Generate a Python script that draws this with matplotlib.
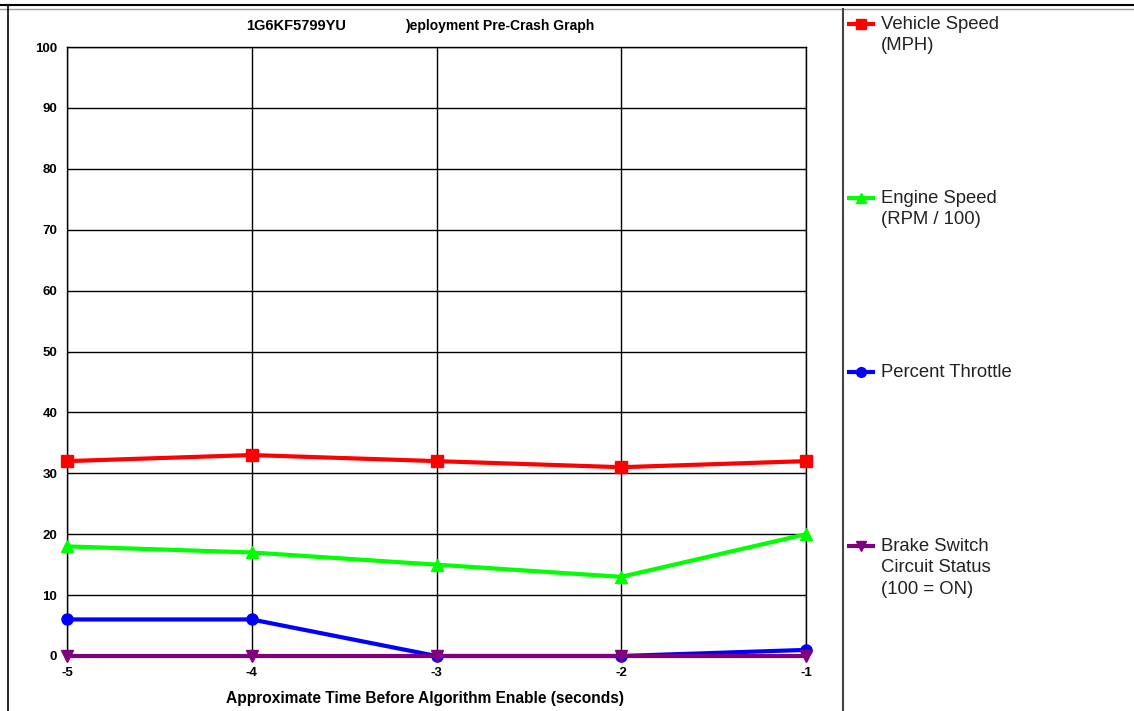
import matplotlib.pyplot as plt
from matplotlib.lines import Line2D

plt.rcParams["axes.unicode_minus"] = False

# Datos
tiempo = [-5, -4, -3, -2, -1]
vel_vehiculo = [32, 33, 32, 31, 32]
vel_motor = [18, 17, 15, 13, 20]
acelerador = [6, 6, 0, 0, 1]
freno = [0, 0, 0, 0, 0]

series = [
    (vel_vehiculo, "#ff0000", "s", "Vehicle Speed\n(MPH)", 24),
    (vel_motor, "#00ff00", "^", "Engine Speed\n(RPM / 100)", 198),
    (acelerador, "#0000ff", "o", "Percent Throttle", 372),
    (freno, "#800080", "v", "Brake Switch\nCircuit Status\n(100 = ON)", 546),
]

W, H = 1134, 711
fig = plt.figure(figsize=(W / 100, H / 100), dpi=100)
fuente = ["Liberation Sans", "DejaVu Sans"]

ax = fig.add_axes([67 / W, 1 - 656 / H, (806 - 67) / W, (656 - 47) / H])
for y, c, m, lab, _ in series:
    ax.plot(tiempo, y, color=c, marker=m, markersize=8, linewidth=3,
            clip_on=False, zorder=3)

ax.set_xlim(-5, -1)
ax.set_ylim(0, 100)
ax.set_xticks(tiempo)
ax.set_yticks(range(0, 101, 10))
ax.grid(True, color="black", linewidth=1)
for s in ax.spines.values():
    s.set_color("black")
    s.set_linewidth(1)
ax.tick_params(length=0)
ax.tick_params(axis="x", pad=8)
ax.tick_params(axis="y", pad=7)
for t in ax.get_xticklabels() + ax.get_yticklabels():
    t.set_fontfamily(fuente)
    t.set_fontweight("bold")
    t.set_fontsize(9.5)
ax.set_xlabel("Approximate Time Before Algorithm Enable (seconds)",
              fontfamily=fuente, fontweight="bold", fontsize=11.2)
ax.xaxis.set_label_coords((425 - 67) / (806 - 67), -(698 - 656) / (656 - 47))
ax.xaxis.label.set_va("center")

# Titulo
fig.text(296 / W, 1 - 26 / H, "1G6KF5799YU", ha="center", va="center",
         fontfamily=fuente, fontweight="bold", fontsize=10.5)
fig.text(405 / W, 1 - 26 / H, ")eployment Pre-Crash Graph", ha="left", va="center",
         fontfamily=fuente, fontweight="bold", fontsize=10)

# Bordes
fig.add_artist(Line2D([0, 1], [1 - 5 / H, 1 - 5 / H], color="black", linewidth=1.5))
fig.add_artist(Line2D([0, 1], [1 - 9 / H, 1 - 9 / H], color="#999999", linewidth=1))
fig.add_artist(Line2D([8 / W, 8 / W], [0, 1 - 5 / H], color="black", linewidth=1.2))
fig.add_artist(Line2D([843 / W, 843 / W], [0, 1 - 9 / H], color="#444444", linewidth=1.5))

# Leyenda
for y, c, m, lab, py in series:
    yy = 1 - py / H
    fig.add_artist(Line2D([849 / W, 873 / W], [yy, yy], color=c, linewidth=3))
    fig.add_artist(Line2D([861 / W], [yy], color=c, marker=m, markersize=7))
    fig.text(881 / W, 1 - (py - 8) / H, lab, ha="left", va="top",
             fontfamily=fuente, fontsize=13.3, color="#222222", linespacing=1.33)

fig.savefig("out.png", dpi=100, facecolor="white")
